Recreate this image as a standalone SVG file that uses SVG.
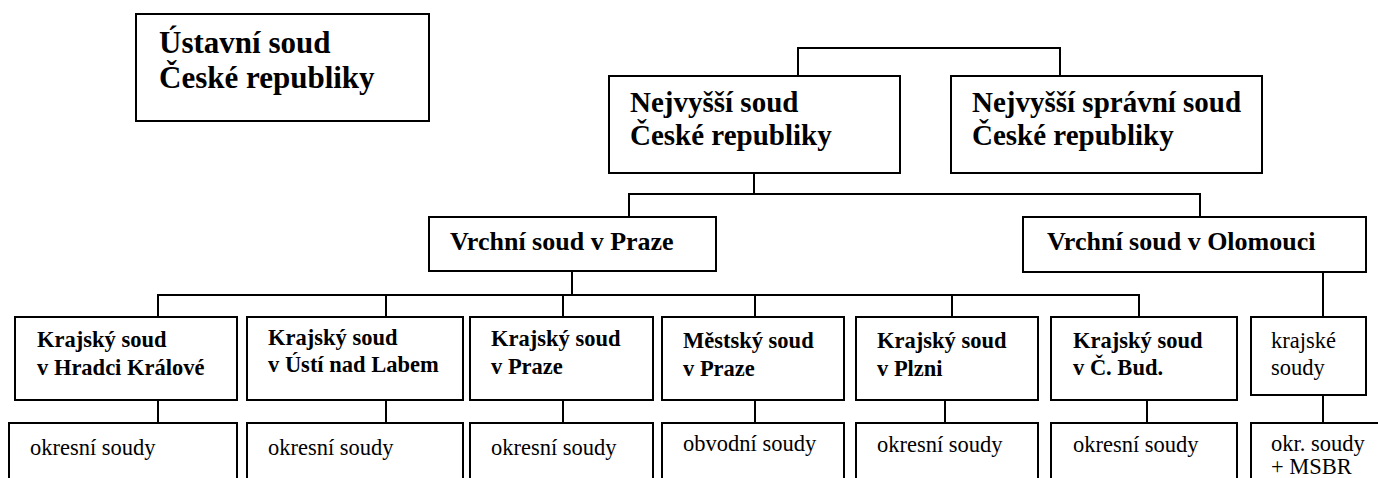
<svg xmlns="http://www.w3.org/2000/svg" width="1378" height="478" viewBox="0 0 1378 478">
<style>
.bx{fill:#fff;stroke:#000;stroke-width:2}
.c{fill:none;stroke:#000;stroke-width:2}
</style>
<rect x="0" y="0" width="1378" height="478" fill="#fff"/>
<g id="connectors">
<path class="c" d="M798,76 V48 H1060 V76"/>
<path class="c" d="M754,173 V194 M629,217 V194 H1200 V217"/>
<path class="c" d="M572,271 V295 M158,317 V295 H1139 V317 M386,295 V317 M563,295 V317 M755,295 V317 M952,295 V317"/>
<path class="c" d="M1323,272 V317"/>
<path class="c" d="M158,400 V423 M386,400 V423 M563,400 V423 M755,400 V423 M945,400 V423 M1147,400 V423 M1323,395 V423"/>
</g>
<g id="ustavni" font-family="Liberation Serif" font-weight="bold" font-size="31"><rect class="bx" x="136" y="14" width="293" height="107"/><text x="159" y="53">Ústavní soud</text><text x="159" y="88">České republiky</text></g>
<g id="ns" font-family="Liberation Serif" font-weight="bold" font-size="29"><rect class="bx" x="609" y="76" width="291" height="97"/><text x="630" y="112">Nejvyšší soud</text><text x="630" y="145">České republiky</text></g>
<g id="nss" font-family="Liberation Serif" font-weight="bold" font-size="29"><rect class="bx" x="951" y="76" width="311" height="97"/><text x="972" y="112">Nejvyšší správní soud</text><text x="972" y="145">České republiky</text></g>
<g id="vs-praha" font-family="Liberation Serif" font-weight="bold" font-size="26"><rect class="bx" x="429" y="217" width="287" height="54"/><text x="450" y="250">Vrchní soud v Praze</text></g>
<g id="vs-olomouc" font-family="Liberation Serif" font-weight="bold" font-size="26"><rect class="bx" x="1023" y="217" width="343" height="55"/><text x="1047" y="250">Vrchní soud v Olomouci</text></g>
<g id="ks-hk" font-family="Liberation Serif" font-weight="bold" font-size="22.5"><rect class="bx" x="15" y="317" width="222" height="83"/><text x="37" y="347">Krajský soud</text><text x="37" y="375">v Hradci Králové</text></g>
<g id="ks-ul" font-family="Liberation Serif" font-weight="bold" font-size="22.5"><rect class="bx" x="247" y="317" width="216" height="83"/><text x="268" y="345">Krajský soud</text><text x="268" y="372">v Ústí nad Labem</text></g>
<g id="ks-pha" font-family="Liberation Serif" font-weight="bold" font-size="22.5"><rect class="bx" x="470" y="317" width="183" height="83"/><text x="491" y="346">Krajský soud</text><text x="491" y="374">v Praze</text></g>
<g id="ms-pha" font-family="Liberation Serif" font-weight="bold" font-size="22.5"><rect class="bx" x="662" y="317" width="182" height="83"/><text x="683" y="348">Městský soud</text><text x="683" y="376">v Praze</text></g>
<g id="ks-plz" font-family="Liberation Serif" font-weight="bold" font-size="22.5"><rect class="bx" x="856" y="317" width="182" height="83"/><text x="877" y="348">Krajský soud</text><text x="877" y="376">v Plzni</text></g>
<g id="ks-cb" font-family="Liberation Serif" font-weight="bold" font-size="22.5"><rect class="bx" x="1051" y="317" width="186" height="83"/><text x="1073" y="348">Krajský soud</text><text x="1073" y="375">v Č. Bud.</text></g>
<g id="ks-ol" font-family="Liberation Serif" font-size="22.5"><rect class="bx" x="1251" y="317" width="115" height="78"/><text x="1271" y="348">krajské</text><text x="1271" y="375">soudy</text></g>
<g id="os-hk" font-family="Liberation Serif" font-size="22.5"><rect class="bx" x="9" y="423" width="228" height="70"/><text x="30" y="455">okresní soudy</text></g>
<g id="os-ul" font-family="Liberation Serif" font-size="22.5"><rect class="bx" x="247" y="423" width="216" height="70"/><text x="268" y="455">okresní soudy</text></g>
<g id="os-pha" font-family="Liberation Serif" font-size="22.5"><rect class="bx" x="470" y="423" width="183" height="70"/><text x="491" y="455">okresní soudy</text></g>
<g id="obv-pha" font-family="Liberation Serif" font-size="22.5"><rect class="bx" x="662" y="423" width="182" height="70"/><text x="683" y="451">obvodní soudy</text></g>
<g id="os-plz" font-family="Liberation Serif" font-size="22.5"><rect class="bx" x="856" y="423" width="182" height="70"/><text x="877" y="452">okresní soudy</text></g>
<g id="os-cb" font-family="Liberation Serif" font-size="22.5"><rect class="bx" x="1051" y="423" width="186" height="70"/><text x="1073" y="452">okresní soudy</text></g>
<g id="os-ol" font-family="Liberation Serif" font-size="22.5"><rect class="bx" x="1251" y="423" width="140" height="70"/><text x="1271" y="451">okr. soudy</text><text x="1271" y="474">+ MSBR</text></g>
</svg>
